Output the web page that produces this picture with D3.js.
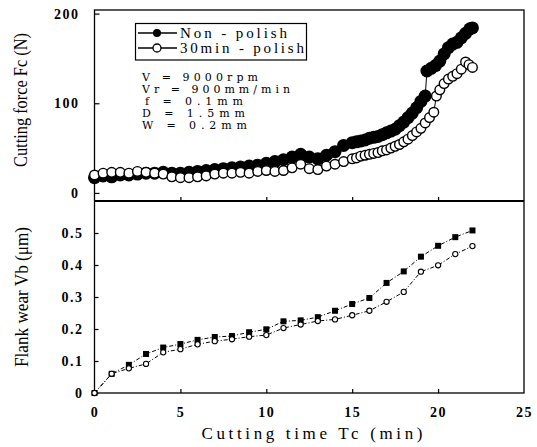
<!DOCTYPE html>
<html><head><meta charset="utf-8">
<script src="https://cdn.jsdelivr.net/npm/d3@7"></script>
<style>body{margin:0;background:#fff}svg{display:block}</style>
</head><body>
<svg id="c" width="537" height="447"></svg>
<script>
// Upper panel: cutting force (N) vs cutting time (min)
const forceNonT = [0,0.5,1,1.5,2,2.5,3,3.5,4,4.5,5,5.5,6,6.5,7,7.5,8,8.5,9,9.5,10,10.5,11,11.5,12,12.5,13,13.5,14,14.5,15,15.25,15.5,15.75,16,16.25,16.5,16.75,17,17.25,17.5,17.75,18,18.25,18.5,18.75,19,19.25,19.35,19.6,19.85,20.1,20.35,20.6,20.85,21.1,21.35,21.6,21.85,22];
const forceNonV = [17,19,18,20,20,21,22,22,23,22,22,23,24,25,26,27,28,29,30,31,33,35,37,40,43,40,38,42,46,53,56,57,58,59,61,62,63,65,67,69,71,75,79,84,89,95,102,108,136,139,142,147,155,162,166,168,173,178,183,184];
const forcePolT = [0,0.5,1,1.5,2,2.5,3,3.5,4,4.5,5,5.5,6,6.5,7,7.5,8,8.5,9,9.5,10,10.5,11,11.5,12,12.5,13,13.5,14,14.5,15,15.25,15.5,15.75,16,16.25,16.5,16.75,17,17.25,17.5,17.75,18,18.25,18.5,18.75,19,19.25,19.5,19.75,19.9,20.1,20.35,20.6,20.85,21.1,21.35,21.6,21.8,22];
const forcePolV = [20,22,23,23,22,24,23,22,21,18,17,17,18,19,21,22,22,23,22,24,25,24,25,28,32,27,26,30,32,35,38,39,41,42,43,44,45,47,48,50,52,54,57,60,64,68,72,78,84,90,108,115,122,127,130,133,138,146,143,140];

// Lower panel: flank wear (um)
const wearT = [0,1,2,3,4,5,6,7,8,9,10,11,12,13,14,15,16,17,18,19,20,21,22];
const wearNon = [0,0.06,0.088,0.122,0.142,0.153,0.166,0.175,0.178,0.19,0.199,0.224,0.227,0.237,0.257,0.278,0.297,0.344,0.38,0.426,0.46,0.487,0.508];
const wearPol = [0,0.06,0.077,0.091,0.127,0.137,0.152,0.162,0.168,0.176,0.181,0.203,0.214,0.225,0.23,0.243,0.257,0.285,0.316,0.379,0.399,0.434,0.459];

const xTicks = [0,5,10,15,20,25];
const forceTicks = [0,100,200];
const wearTicks = [0,0.1,0.2,0.3,0.4,0.5];
const legendLabels = ["Non - polish","30min - polish"];
const paramLines = ["V = 9000rpm","Vr = 900mm/min","f = 0.1mm","D = 1.5mm","W = 0.2mm"];

const svg = d3.select("#c");
const L = 94.5, R = 524, T = 10, M = 201, B = 393;
const x = d3.scaleLinear().domain([0,25]).range([L,R]);
const yF = d3.scaleLinear().domain([-9,204]).range([M,T]);
const yW = d3.scaleLinear().domain([0,0.6]).range([B,M]);

const serif = "'Liberation Serif','DejaVu Serif',serif";

// frames
svg.append("rect").attr("x",L).attr("y",T).attr("width",R-L).attr("height",B-T)
  .attr("fill","none").attr("stroke","#000").attr("stroke-width",1.3);
svg.append("line").attr("x1",L).attr("x2",R).attr("y1",M).attr("y2",M)
  .attr("stroke","#000").attr("stroke-width",2);

// axes (inward ticks)
function styleAxis(g){
  g.attr("font-family",null).attr("font-size",null);
  g.select(".domain").remove();
  g.selectAll(".tick line").attr("stroke","#000").attr("stroke-width",1.2);
  g.selectAll(".tick text")
    .style("font-family",serif).style("font-weight","900")
    .style("font-size","14px").style("letter-spacing","1.5px").attr("fill","#000");
}
svg.append("g").attr("transform",`translate(${L},0)`)
  .call(d3.axisRight(yF).tickValues(forceTicks).tickSize(5).tickFormat(""))
  .call(styleAxis);
svg.append("g").attr("transform",`translate(${L},0)`)
  .call(d3.axisLeft(yF).tickValues(forceTicks).tickSize(0).tickPadding(15).tickFormat(d3.format("d")))
  .call(styleAxis);
svg.append("g").attr("transform",`translate(${L},0)`)
  .call(d3.axisRight(yW).tickValues(wearTicks).tickSize(4).tickFormat(""))
  .call(styleAxis);
svg.append("g").attr("transform",`translate(${L},0)`)
  .call(d3.axisLeft(yW).tickValues(wearTicks).tickSize(0).tickPadding(11).tickFormat(d => d===0?"0":d3.format(".1f")(d)))
  .call(styleAxis);
svg.append("g").attr("transform",`translate(0,${M})`)
  .call(d3.axisTop(x).tickValues(xTicks.slice(1,5)).tickSize(4).tickFormat(""))
  .call(styleAxis);
svg.append("g").attr("transform",`translate(0,${B})`)
  .call(d3.axisTop(x).tickValues(xTicks.slice(1,5)).tickSize(4).tickFormat(""))
  .call(styleAxis);
svg.append("g").attr("transform",`translate(0,${B})`)
  .call(d3.axisBottom(x).tickValues(xTicks).tickSize(0).tickPadding(14).tickFormat(d3.format("d")))
  .call(styleAxis);

// upper panel data
const nonF = forceNonT.map((t,i)=>[t,forceNonV[i]]);
const polF = forcePolT.map((t,i)=>[t,forcePolV[i]]);
const lineF = d3.line().x(d=>x(d[0])).y(d=>yF(d[1]));
svg.append("path").attr("d",lineF(nonF)).attr("fill","none").attr("stroke","#000").attr("stroke-width",1);
svg.append("g").selectAll("circle").data(nonF).join("circle")
  .attr("cx",d=>x(d[0])).attr("cy",d=>yF(d[1])).attr("r",6.5).attr("fill","#000");
svg.append("path").attr("d",lineF(polF)).attr("fill","none").attr("stroke","#000").attr("stroke-width",1);
svg.append("g").selectAll("circle").data(polF).join("circle")
  .attr("cx",d=>x(d[0])).attr("cy",d=>yF(d[1])).attr("r",4.8)
  .attr("fill","#fff").attr("stroke","#000").attr("stroke-width",1.4);

// lower panel data
const lineW = d3.line().x(d=>x(d[0])).y(d=>yW(d[1]));
const nonW = wearT.map((t,i)=>[t,wearNon[i]]);
const polW = wearT.map((t,i)=>[t,wearPol[i]]);
svg.append("path").attr("d",lineW(nonW)).attr("fill","none").attr("stroke","#000")
  .attr("stroke-width",1).attr("stroke-dasharray","4,2,1,2");
svg.append("path").attr("d",lineW(polW)).attr("fill","none").attr("stroke","#000")
  .attr("stroke-width",1).attr("stroke-dasharray","4,2,1,2");
svg.append("g").selectAll("rect").data(nonW).join("rect")
  .attr("x",d=>x(d[0])-3).attr("y",d=>yW(d[1])-3).attr("width",6).attr("height",6).attr("fill","#000");
svg.append("g").selectAll("circle").data(polW).join("circle")
  .attr("cx",d=>x(d[0])).attr("cy",d=>yW(d[1])).attr("r",2.6)
  .attr("fill","#fff").attr("stroke","#000").attr("stroke-width",1.1);

// legend
svg.append("rect").attr("x",135.5).attr("y",23.5).attr("width",171).attr("height",36.5)
  .attr("fill","#fff").attr("stroke","#000").attr("stroke-width",1.2);
const legY = [33,48];
legY.forEach((ly,i)=>{
  svg.append("line").attr("x1",138).attr("x2",177).attr("y1",ly).attr("y2",ly).attr("stroke","#000").attr("stroke-width",1.3);
  const c = svg.append("circle").attr("cx",157).attr("cy",ly).attr("r",4);
  if(i===0) c.attr("fill","#000");
  else c.attr("fill","#fff").attr("stroke","#000").attr("stroke-width",1.3);
});
const legW = [107,124];
legendLabels.forEach((s,i)=>{
  svg.append("text").attr("x",180).attr("y",legY[i]+5).attr("font-family",serif)
    .attr("font-size",15).attr("textLength",legW[i]).attr("lengthAdjust","spacing").text(s);
});

// parameters text
const parX = [142,142,145,142,142];
const parY = [81,93,105,117,129];
const parW = [116,148,98,103,105];
paramLines.forEach((s,i)=>{
  svg.append("text").attr("x",parX[i]).attr("y",parY[i]).attr("font-family","'DejaVu Serif',serif")
    .attr("font-size",11).attr("textLength",parW[i]).attr("lengthAdjust","spacing").text(s);
});

// axis titles
svg.append("text").attr("transform","translate(27,100) rotate(-90)").attr("text-anchor","middle")
  .attr("font-family",serif).attr("font-size",18).attr("textLength",134).attr("lengthAdjust","spacingAndGlyphs")
  .text("Cutting force Fc (N)");
svg.append("text").attr("transform","translate(28,297) rotate(-90)").attr("text-anchor","middle")
  .attr("font-family",serif).attr("font-size",18).attr("textLength",140).attr("lengthAdjust","spacingAndGlyphs")
  .text("Flank wear Vb (μm)");
svg.append("text").attr("x",312).attr("y",439).attr("text-anchor","middle")
  .attr("font-family",serif).attr("font-size",17).attr("textLength",221).attr("lengthAdjust","spacing")
  .text("Cutting time Tc (min)");
</script>
</body></html>
